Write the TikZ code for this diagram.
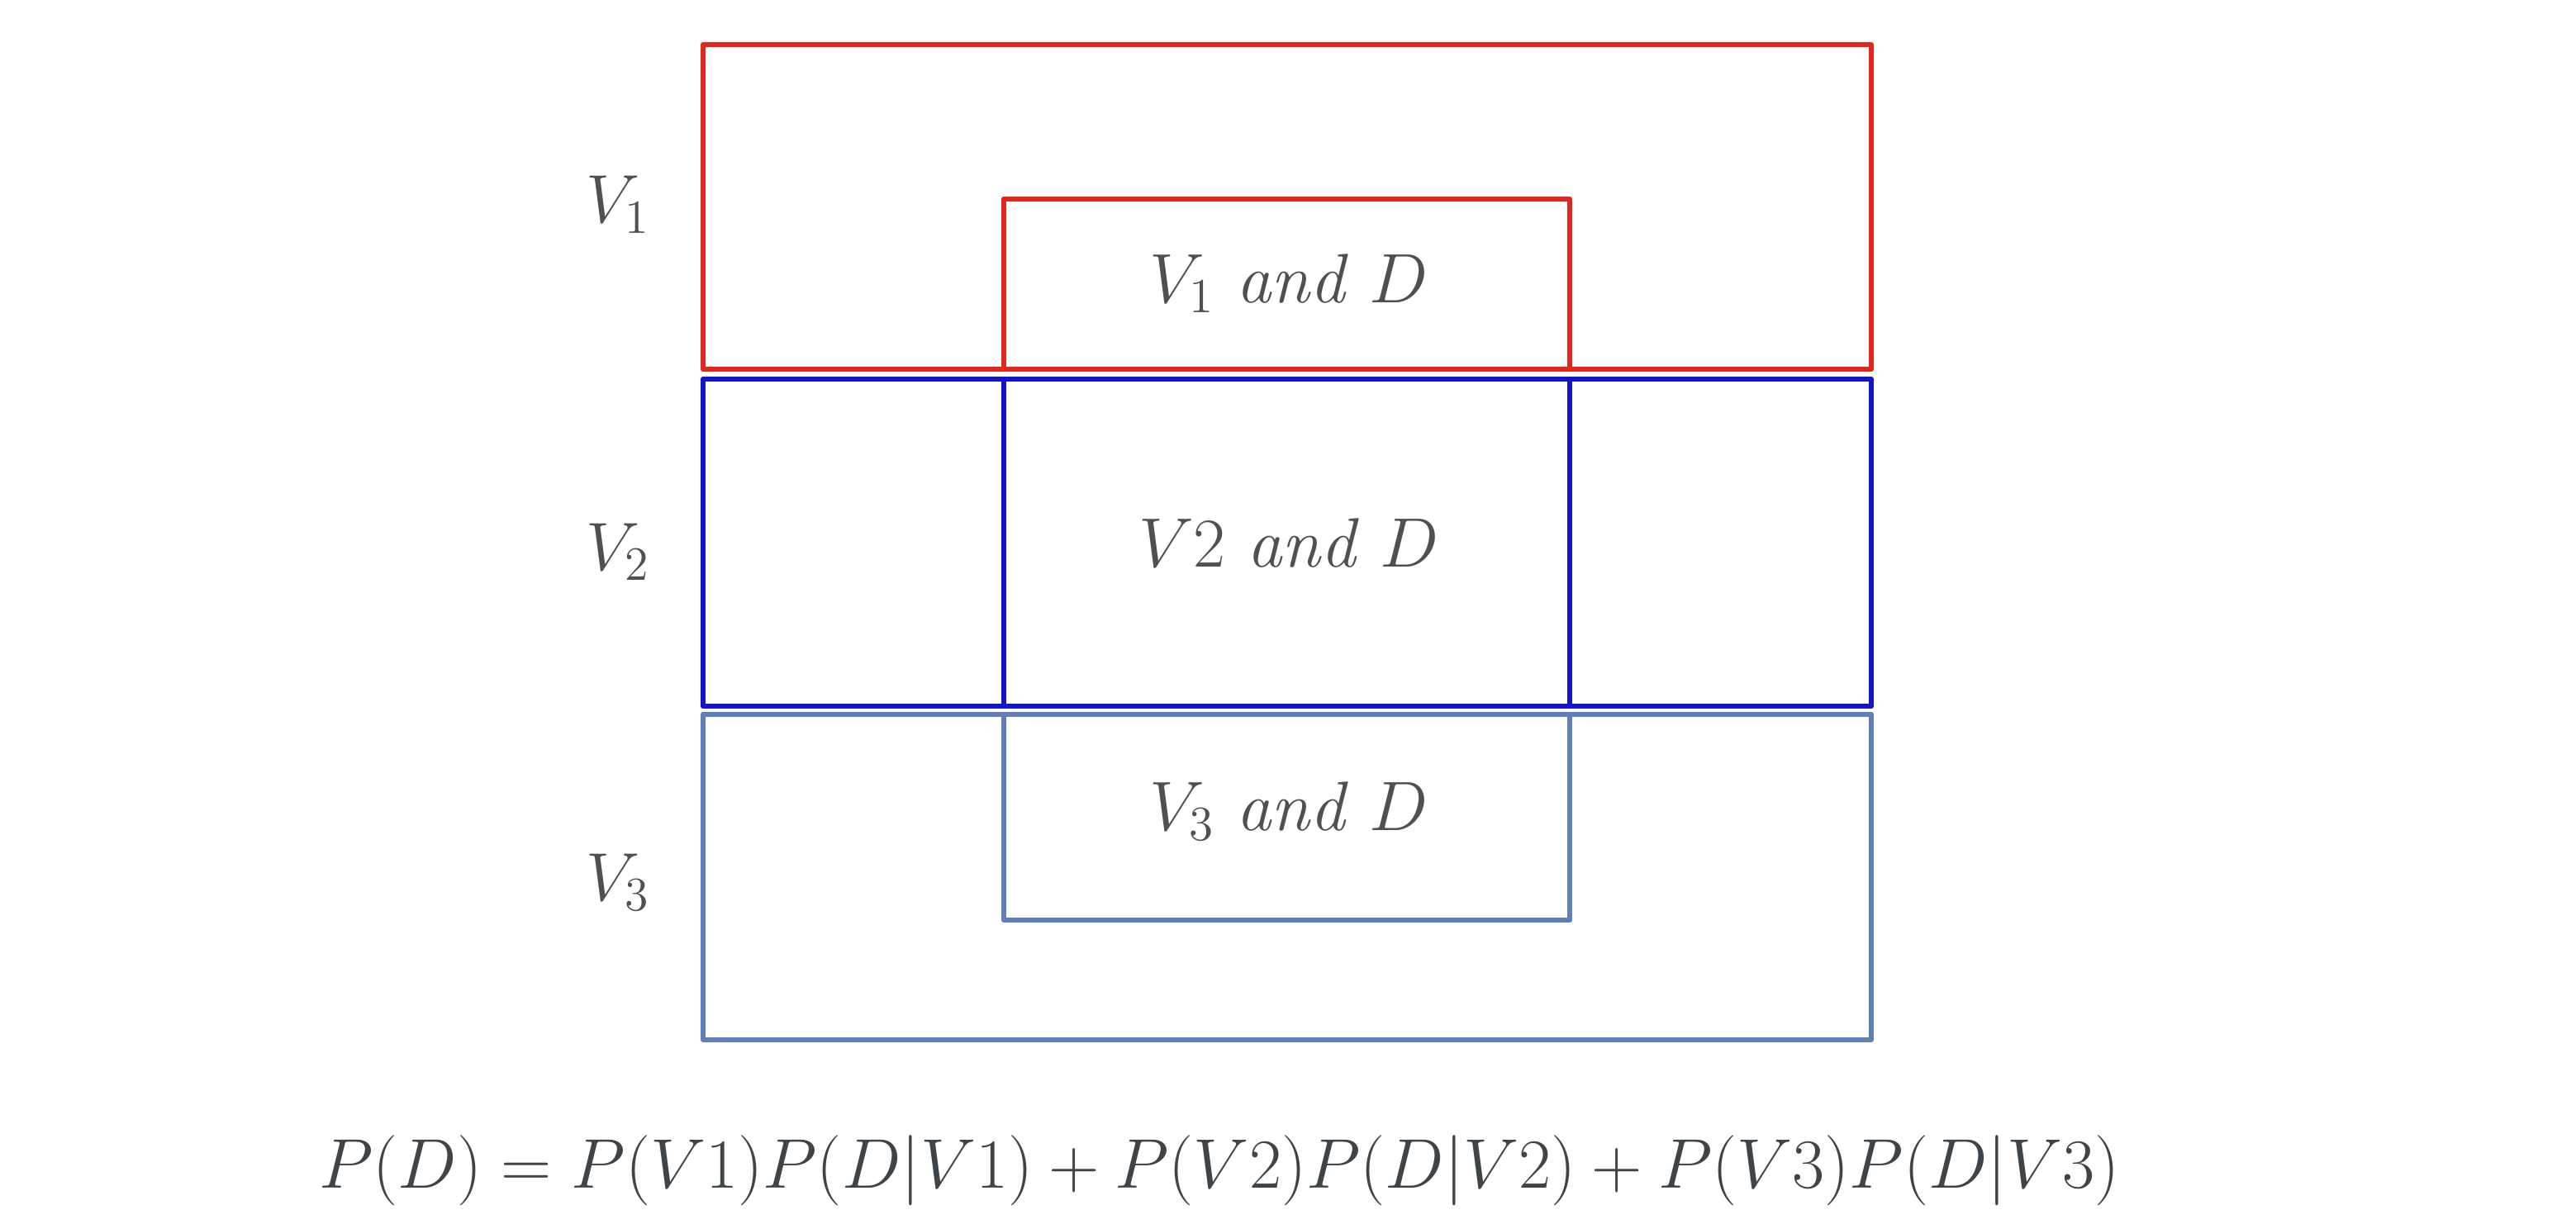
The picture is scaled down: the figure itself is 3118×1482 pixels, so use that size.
\RequirePackage{fix-cm}
\documentclass[tikz,border=0pt]{standalone}
\usepackage{amsmath}
\definecolor{vred}{HTML}{E0281E}
\definecolor{vblue}{HTML}{1414C8}
\definecolor{vsteel}{HTML}{5F7FB8}
\definecolor{txtgray}{HTML}{505050}
\definecolor{eqgray}{HTML}{3E4447}
\tikzset{
    setlabel/.style={anchor=base, text=txtgray, font=\fontsize{23.5}{28}\selectfont},
    partlabel/.style={anchor=base, text=txtgray, font=\fontsize{24.1}{28}\selectfont},
}
\begin{document}
\begin{tikzpicture}[x=0.01cm, y=-0.01cm, line join=round, line cap=round, line width=1.8pt]
    \useasboundingbox (0,0) rectangle (3118,1482);
    \foreach \id/\col/\yt/\yb/\it/\ib/\ly/\iy/\sub/\num in {
        V1/vred/   54/ 447/ 241/ 447/ 270/ 366/_1/1,
        V2/vblue/ 459/ 855/ 459/ 855/ 690/ 686/{}/2,
        V3/vsteel/865/1259/ 865/1114/1090/1005/_3/3%
    } {
        \draw[\col] (851, \yt) rectangle (2265, \yb);
        \draw[\col] (1215, \it) rectangle (1900, \ib);
        \node[setlabel] (\id) at (748, \ly) {$V_{\num}$};
        \node[partlabel] (\id D) at (1560, \iy) {$V\ifx\sub\empty\num\else\sub\fi$ \textit{and} $D$};
    }
    \node[anchor=base, text=eqgray, font=\fontsize{24.2}{28}\selectfont] (eq) at (1476, 1438)
        {$P(D) = P(V1)P(D|V1) + P(V2)P(D|V2) + P(V3)P(D|V3)$};
\end{tikzpicture}
\end{document}
